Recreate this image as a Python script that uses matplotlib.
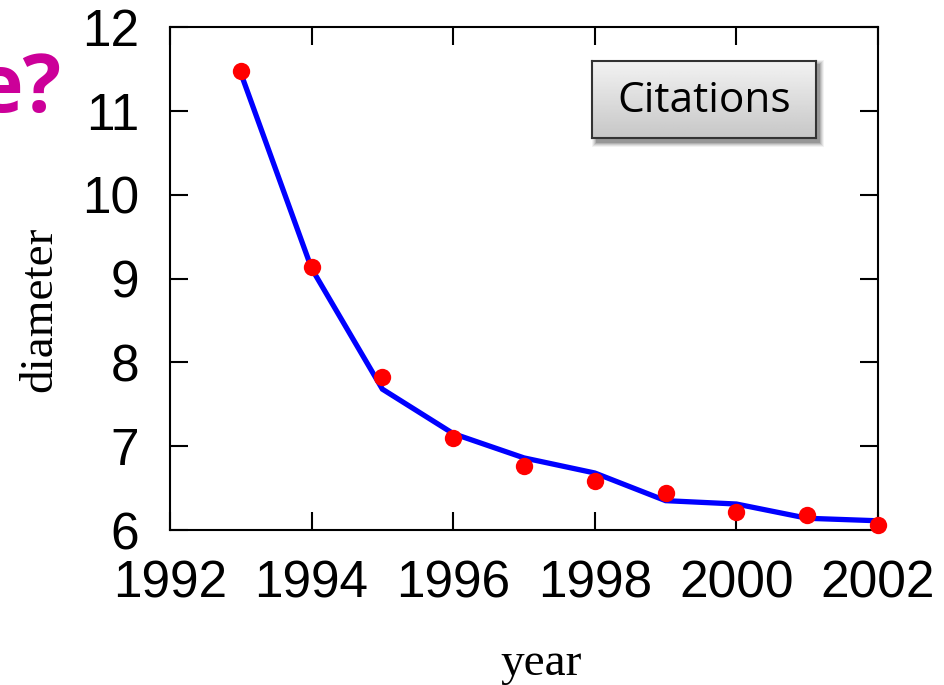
import numpy as np
import matplotlib
matplotlib.use("Agg")
import matplotlib.pyplot as plt
from matplotlib.patches import Rectangle

# Data
years = [1993, 1994, 1995, 1996, 1997, 1998, 1999, 2000, 2001, 2002]
observed = [11.48, 9.14, 7.83, 7.10, 6.76, 6.59, 6.44, 6.22, 6.18, 6.06]
fitted = [11.45, 9.12, 7.68, 7.15, 6.86, 6.68, 6.35, 6.31, 6.14, 6.11]
xticks = [1992, 1994, 1996, 1998, 2000, 2002]
yticks = [6, 7, 8, 9, 10, 11, 12]
legend_label = "Citations"

W, H = 944, 685
fig = plt.figure(figsize=(W / 100, H / 100), dpi=100)

# axes box in pixels: left 170, right 878, top 27, bottom 530
left, right, top, bottom = 170, 878, 27, 530
ax = fig.add_axes([left / W, 1 - bottom / H, (right - left) / W, (bottom - top) / H])

ax.plot(years, fitted, color="#0000ff", lw=3.8, solid_joinstyle="miter", zorder=2, clip_on=False)
ax.plot(years, observed, "o", color="#ff0000", ms=12.5, mec="none", zorder=3, clip_on=False)

ax.set_xlim(1992, 2002)
ax.set_ylim(6, 12)
ax.set_xticks(xticks)
ax.set_yticks(yticks)
for s in ax.spines.values():
    s.set_linewidth(1.5)
    s.set_color("black")
ax.tick_params(direction="in", length=13, width=1.5, top=True, right=True,
               labelsize=37)
ax.tick_params(axis="x", pad=21)
ax.tick_params(axis="y", pad=22)
for lab in ax.get_xticklabels() + ax.get_yticklabels():
    lab.set_fontfamily("Liberation Sans")

# axis titles in serif
fig.text(541 / W, 1 - 664 / H, "year", family="Liberation Serif", fontsize=34,
         ha="center", va="center")
fig.text(40 / W, 1 - 309 / H, "diameter", family="Liberation Serif", fontsize=34,
         rotation=90, ha="center", va="center")

# slide heading fragment at the left edge
fig.text(61 / W, 1 - 112 / H, "e?", family="Open Sans", weight="bold", fontsize=58,
         color="#cc0099", ha="right", va="baseline")

# legend box with soft shadow and vertical gray gradient
bx0, bx1, by0, by1 = 592, 816, 61, 138
for i, a in enumerate([0.05, 0.07, 0.09, 0.12, 0.15]):
    off = 5 - i
    fig.patches.append(Rectangle(((bx0 + 2 - off + 3) / W, 1 - (by1 + 4 + off) / H),
                                 (bx1 - bx0 + 2 * off - 2) / W, (by1 - by0 + 2 * off) / H,
                                 transform=fig.transFigure, facecolor="black",
                                 edgecolor="none", alpha=a, zorder=4))
lax = fig.add_axes([bx0 / W, 1 - by1 / H, (bx1 - bx0) / W, (by1 - by0) / H], zorder=5)
grad = np.linspace(0.95, 0.78, 64)[:, None]
lax.imshow(np.repeat(grad, 2, axis=1), cmap="gray", vmin=0, vmax=1, aspect="auto",
           extent=[0, 1, 0, 1], origin="upper")
lax.set_xlim(0, 1)
lax.set_ylim(0, 1)
lax.set_xticks([])
lax.set_yticks([])
for s in lax.spines.values():
    s.set_linewidth(1.5)
    s.set_color("#333333")
lax.text(0.5, 0.48, legend_label, family="Open Sans", fontsize=30.5, ha="center",
         va="center", color="#000000", transform=lax.transAxes)

fig.savefig("out.png", dpi=100)
